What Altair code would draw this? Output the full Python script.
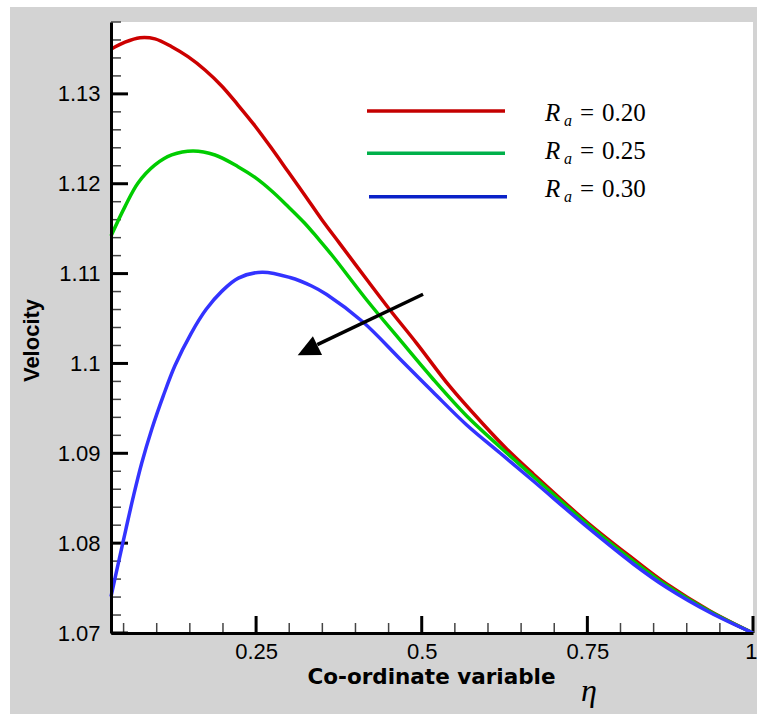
import altair as alt
import pandas as pd

# ---------------- data ----------------
series_names = ["Ra = 0.20", "Ra = 0.25", "Ra = 0.30"]
legend_values = ["0.20", "0.25", "0.30"]
curve_colors = ["#cc0000", "#00cc00", "#3333ff"]
legend_colors = ["#c40000", "#00b04a", "#0a22c8"]

x_red = [0.031, 0.0521, 0.0748, 0.0974, 0.1226, 0.1472, 0.1729, 0.1981, 0.2227,
         0.2484, 0.2736, 0.2982, 0.3238, 0.3490, 0.3766, 0.4170, 0.4521, 0.4924,
         0.5427, 0.5925, 0.6283, 0.6684, 0.7515, 0.8194, 0.8698, 0.9351, 1.0]
y_red = [1.13497, 1.13575, 1.13625, 1.13612, 1.13525, 1.13414, 1.13266, 1.13088,
         1.12876, 1.12643, 1.12392, 1.12136, 1.11869, 1.11602, 1.11331, 1.10934,
         1.10595, 1.10224, 1.09741, 1.09326, 1.09048, 1.08770, 1.08221, 1.07824,
         1.07545, 1.07245, 1.07000]

x_green = [0.031, 0.0521, 0.0718, 0.0974, 0.1226, 0.1548, 0.1880, 0.2227, 0.2484,
           0.2736, 0.2982, 0.3238, 0.3434, 0.3661, 0.4170, 0.4672, 0.5170, 0.5679,
           0.6182, 0.6684, 0.7515, 0.8194, 0.8698, 0.9351, 1.0]
y_green = [1.11418, 1.11745, 1.12008, 1.12209, 1.12320, 1.12365, 1.12320, 1.12190,
           1.12070, 1.11919, 1.11747, 1.11558, 1.11391, 1.11190, 1.10706, 1.10261,
           1.09827, 1.09415, 1.09070, 1.08742, 1.08202, 1.07801, 1.07529, 1.07239,
           1.07000]

x_blue = [0.031, 0.0420, 0.0532, 0.0647, 0.0773, 0.0924, 0.1099, 0.1276, 0.1518,
          0.1744, 0.1981, 0.2232, 0.2589, 0.3012, 0.3339, 0.3566, 0.4114, 0.4672,
          0.5170, 0.5679, 0.6182, 0.6684, 0.7515, 0.8194, 0.8698, 0.9351, 1.0]
y_blue = [1.07404, 1.07776, 1.08146, 1.08517, 1.08889, 1.09265, 1.09639, 1.09977,
          1.10333, 1.10600, 1.10802, 1.10950, 1.11016, 1.10957, 1.10862, 1.10767,
          1.10461, 1.10050, 1.09682, 1.09315, 1.09003, 1.08692, 1.08169, 1.07768,
          1.07506, 1.07228, 1.07000]

y_major = [1.07, 1.08, 1.09, 1.10, 1.11, 1.12, 1.13]
y_minor = [round(1.07 + 0.002 * i, 3) for i in range(1, 35) if i % 5]
x_major = [0.25, 0.5, 0.75, 1.0]
x_minor = [round(0.05 * i, 2) for i in range(1, 20) if i % 5]
x_domain = [0.031, 1.0]
y_domain = [1.07, 1.138]

arrow_x = [0.502, 0.3424]
arrow_y = [1.1077, 1.1021]
arrow_tip_x = [0.3128]
arrow_tip_y = [1.1009]

# ---------------- layout ----------------
W, H = 642, 611
PAD = {"left": 111, "top": 22, "right": 4, "bottom": 81}

xs = alt.Scale(domain=x_domain, nice=False, zero=False)
ys = alt.Scale(domain=y_domain, nice=False, zero=False)

curves = pd.concat([
    pd.DataFrame({"x": x_red, "y": y_red, "series": series_names[0]}),
    pd.DataFrame({"x": x_green, "y": y_green, "series": series_names[1]}),
    pd.DataFrame({"x": x_blue, "y": y_blue, "series": series_names[2]}),
], ignore_index=True)

one = pd.DataFrame({"k": [0]})

# white outer margins (left and top) of the picture
white_left = alt.Chart(one).mark_rect(color="white").encode(
    x=alt.value(-111), x2=alt.value(-101), y=alt.value(-22), y2=alt.value(H + 81))
white_top = alt.Chart(one).mark_rect(color="white").encode(
    x=alt.value(-111), x2=alt.value(W + 4), y=alt.value(-22), y2=alt.value(-15))

x_axis = alt.Axis(values=x_major, format="~g", ticks=False, tickSize=0, grid=False,
                  domainWidth=3, domainColor="black", labelFont="Liberation Sans",
                  labelFontSize=22, labelColor="black", labelPadding=8,
                  labelAlign={"condition": {"test": "datum.value >= 1", "value": "right"},
                              "value": "center"},
                  labelOffset={"condition": {"test": "datum.value >= 1", "value": 4},
                               "value": 0},
                  labelFlush=False, labelOverlap=False, labelBound=False,
                  title="Co-ordinate variable", titleFont="DejaVu Sans",
                  titleFontWeight="bold", titleFontSize=21.5, titleColor="black",
                  titleX=W / 2 - 1, titleY=50, titleAlign="center",
                  titleBaseline="alphabetic", zindex=1)
y_axis = alt.Axis(values=y_major, format="~g", ticks=False, tickSize=0, grid=False,
                  domainWidth=3, domainColor="black", labelFont="Liberation Sans",
                  labelFontSize=22, labelColor="black", labelPadding=11,
                  labelOverlap=False, labelBound=False,
                  title="Velocity", titleFont="Liberation Sans",
                  titleFontWeight="bold", titleFontSize=22, titleColor="black",
                  titleAngle=270, titleX=-73, titleY=318, titleAlign="center",
                  titleBaseline="alphabetic", zindex=1)

lines = alt.Chart(curves).mark_line(strokeWidth=3.5, interpolate="catmull-rom").encode(
    x=alt.X("x:Q", scale=xs, axis=x_axis),
    y=alt.Y("y:Q", scale=ys, axis=y_axis),
    color=alt.Color("series:N", scale=alt.Scale(domain=series_names, range=curve_colors),
                    legend=None),
)

ymaj = alt.Chart(pd.DataFrame({"v": y_major})).mark_rule(color="black", strokeWidth=3).encode(
    y=alt.Y("v:Q", scale=ys), x=alt.value(0), x2=alt.value(17))
ymin = alt.Chart(pd.DataFrame({"v": y_minor})).mark_rule(color="#444444", strokeWidth=1.5).encode(
    y=alt.Y("v:Q", scale=ys), x=alt.value(0), x2=alt.value(10))
xmaj = alt.Chart(pd.DataFrame({"v": x_major})).mark_rule(color="black", strokeWidth=3).encode(
    x=alt.X("v:Q", scale=xs), y=alt.value(H), y2=alt.value(H - 17))
xmin = alt.Chart(pd.DataFrame({"v": x_minor})).mark_rule(color="#444444", strokeWidth=1.5).encode(
    x=alt.X("v:Q", scale=xs), y=alt.value(H), y2=alt.value(H - 10))

arrow_line = alt.Chart(pd.DataFrame({"x": arrow_x, "y": arrow_y})).mark_line(
    color="black", strokeWidth=3.5).encode(
    x=alt.X("x:Q", scale=xs), y=alt.Y("y:Q", scale=ys))
arrow_head = alt.Chart(pd.DataFrame({"x": arrow_tip_x, "y": arrow_tip_y})).mark_point(
    shape="M0,0L0.95,2L-0.95,2Z", size=484, filled=True, color="black", opacity=1,
    strokeWidth=0, angle=244).encode(
    x=alt.X("x:Q", scale=xs), y=alt.Y("y:Q", scale=ys))

eta = alt.Chart(one).mark_text(text="η", font="Liberation Serif", fontStyle="italic",
                               fontSize=32, align="left", baseline="alphabetic",
                               color="black").encode(x=alt.value(470), y=alt.value(679))

legend_layers = []
line_y = [89, 131.3, 174.7]
text_y = [98.5, 137.0, 175.3]
for i in range(3):
    row = pd.DataFrame({"val": [legend_values[i]]})
    shift = 2 if i == 2 else 0
    legend_layers.append(alt.Chart(row).mark_rule(color=legend_colors[i], strokeWidth=3.5).encode(
        x=alt.value(256 + shift), x2=alt.value(394 + shift), y=alt.value(line_y[i])))
    legend_layers.append(alt.Chart(row).mark_text(
        text="R", font="Liberation Serif", fontStyle="italic", fontSize=25,
        align="left", baseline="alphabetic", color="black").encode(
        x=alt.value(434), y=alt.value(text_y[i])))
    legend_layers.append(alt.Chart(row).mark_text(
        text="a", font="Liberation Serif", fontStyle="italic", fontSize=16,
        align="left", baseline="alphabetic", color="black").encode(
        x=alt.value(453), y=alt.value(text_y[i] + 5)))
    legend_layers.append(alt.Chart(row).mark_text(
        text="=", font="Liberation Serif", fontSize=25,
        align="left", baseline="alphabetic", color="black").encode(
        x=alt.value(469), y=alt.value(text_y[i])))
    legend_layers.append(alt.Chart(row).mark_text(
        font="Liberation Serif", fontSize=25,
        align="left", baseline="alphabetic", color="black").encode(
        text="val:N", x=alt.value(491), y=alt.value(text_y[i])))

chart = alt.layer(
    white_left, white_top, ymin, xmin, ymaj, xmaj, lines, arrow_line, arrow_head, eta,
    *legend_layers
).properties(
    width=W, height=H, padding=PAD,
    autosize=alt.AutoSizeParams(type="none"), background="#d3d3d3"
).configure_view(stroke=None, fill="white")

chart.save("out.html", embed_options={"renderer": "svg", "actions": False})
